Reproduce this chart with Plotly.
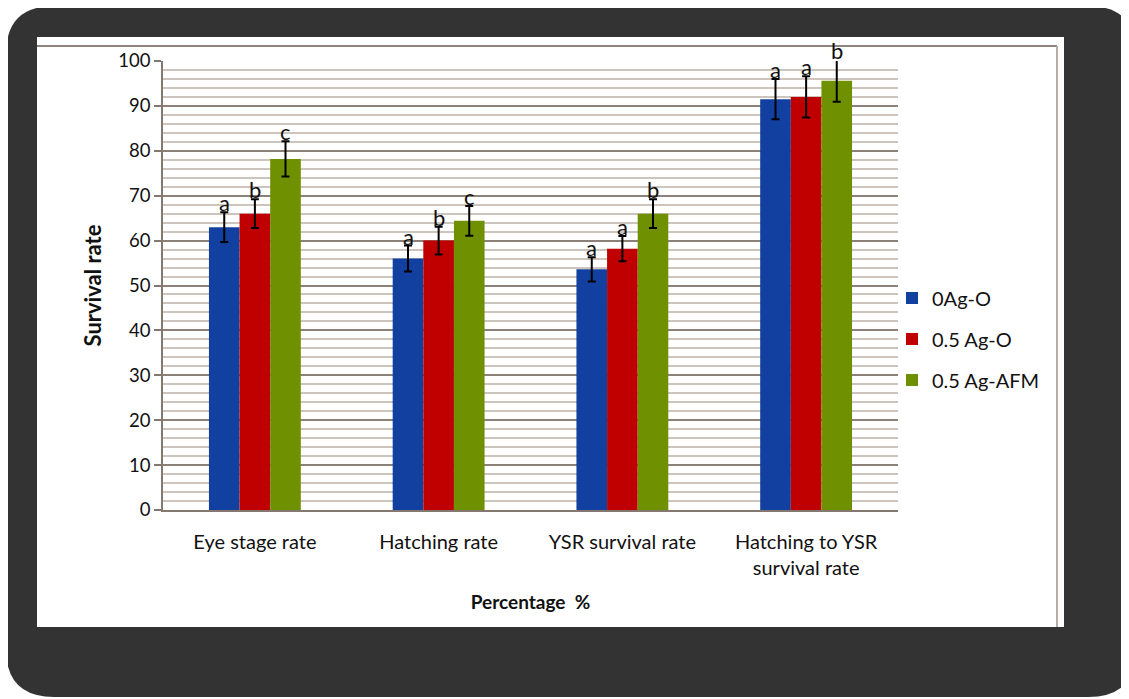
import plotly.graph_objects as go

categories = ["Eye stage rate", "Hatching rate", "YSR survival rate", "Hatching to YSR<br>survival rate"]
series_names = ["0Ag-O", "0.5 Ag-O", "0.5 Ag-AFM"]
values_0ag_o = [63.0, 56.0, 53.6, 91.5]
values_05ag_o = [66.0, 60.0, 58.2, 92.0]
values_05ag_afm = [78.2, 64.4, 66.0, 95.6]
err_0ag_o = [3.3, 2.9, 2.7, 4.5]
err_05ag_o = [3.2, 3.1, 2.8, 4.6]
err_05ag_afm = [3.9, 3.3, 3.2, 4.7]
letters_0ag_o = ["a", "a", "a", "a"]
letters_05ag_o = ["b", "b", "a", "a"]
letters_05ag_afm = ["c", "c", "b", "b"]
colors = ["#1240a0", "#c00000", "#6f9000"]
y_ticks = [0, 10, 20, 30, 40, 50, 60, 70, 80, 90, 100]
Y_MIN, Y_MAX = 0, 100

# page is offset by the default 8px body margin
OFF = 8
W, H = 1129 - OFF, 699 - OFF
# plot area in page pixels
PX0, PX1, PY0, PY1 = 163, 898, 61, 510
L, R, T, B = PX0 - OFF, W - (PX1 - OFF), PY0 - OFF, H - (PY1 - OFF)
PW, PH = PX1 - PX0, PY1 - PY0
FONT = "Lato"


def px(x):
    return (x - PX0) / PW


def py(y):
    return (PY1 - y) / PH


def rounded_path(x0, y0, x1, y1, r):
    pts = [
        ("M", [(x0 + r, y0)]),
        ("L", [(x1 - r, y0)]),
        ("Q", [(x1, y0), (x1, y0 + r)]),
        ("L", [(x1, y1 - r)]),
        ("Q", [(x1, y1), (x1 - r, y1)]),
        ("L", [(x0 + r, y1)]),
        ("Q", [(x0, y1), (x0, y1 - r)]),
        ("L", [(x0, y0 + r)]),
        ("Q", [(x0, y0), (x0 + r, y0)]),
    ]
    s = ""
    for cmd, ps in pts:
        s += cmd + " ".join(f"{px(a):.5f},{py(b):.5f}" for a, b in ps) + " "
    return s + "Z"


fig = go.Figure()
all_vals = [values_0ag_o, values_05ag_o, values_05ag_afm]
all_errs = [err_0ag_o, err_05ag_o, err_05ag_afm]
all_letters = [letters_0ag_o, letters_05ag_o, letters_05ag_afm]

for i, name in enumerate(series_names):
    fig.add_trace(go.Bar(
        x=categories, y=all_vals[i], name=name,
        marker=dict(color=colors[i], line=dict(width=0)),
        error_y=dict(type="data", array=all_errs[i], visible=True,
                     color="black", thickness=2, width=4),
        legendgroup=name, cliponaxis=False,
    ))

bar_w = PW / len(categories) * 0.5 / 3
annotations = []
for i in range(3):
    for j, cat in enumerate(categories):
        annotations.append(dict(
            x=cat, y=(all_vals[i][j] + all_errs[i][j] - Y_MIN) / (Y_MAX - Y_MIN),
            xref="x", yref="paper",
            text=all_letters[i][j], showarrow=False, yanchor="bottom",
            xshift=(i - 1) * bar_w, yshift=-6,
            font=dict(family=FONT, size=22, color="#111"),
        ))

shapes = [
    dict(type="path", xref="paper", yref="paper", layer="below",
         path=rounded_path(6, 6, 1136, 697, 48),
         fillcolor="#333333", line=dict(width=0)),
    dict(type="rect", xref="paper", yref="paper", layer="below",
         x0=px(37), x1=px(1064), y0=py(37), y1=py(627),
         fillcolor="white", line=dict(width=0)),
    dict(type="line", xref="paper", yref="paper", layer="below",
         x0=px(37), x1=px(1057), y0=py(46), y1=py(46),
         line=dict(color="#8f847d", width=2)),
    dict(type="line", xref="paper", yref="paper", layer="below",
         x0=px(1057), x1=px(1057), y0=py(46), y1=py(627),
         line=dict(color="#b5aca6", width=2)),
]

fig.update_layout(
    width=W, height=H,
    margin=dict(l=L, r=R, t=T, b=B, autoexpand=False),
    paper_bgcolor="white", plot_bgcolor="rgba(0,0,0,0)",
    barmode="group", bargap=0.5, bargroupgap=0,
    font=dict(family=FONT, color="#111"),
    showlegend=True,
    legend=dict(x=px(892), y=py(339), xanchor="left", yanchor="middle",
                font=dict(family=FONT, size=20, color="#111"),
                tracegroupgap=12, bgcolor="rgba(0,0,0,0)"),
    shapes=shapes,
    annotations=annotations,
    xaxis=dict(
        showline=True, linecolor="#857870", linewidth=1.5,
        showgrid=False, ticks="", ticklabelstandoff=13,
        tickfont=dict(family=FONT, size=20, color="#111"),
        title=dict(text="<b>Percentage&nbsp; %</b>", standoff=18,
                   font=dict(family=FONT, size=19, color="#111")),
    ),
    yaxis=dict(
        range=[Y_MIN, Y_MAX], tickvals=y_ticks,
        showline=True, linecolor="#857870", linewidth=1.5,
        ticks="outside", ticklen=7, tickcolor="#857870", tickwidth=1.5,
        showgrid=True, gridcolor="#8c8079", gridwidth=1.5, zeroline=False,
        minor=dict(dtick=2, showgrid=True, gridcolor="#cdc4be", gridwidth=2),
        tickfont=dict(family=FONT, size=18.5, color="#111"),
        title=dict(text="<b>Survival rate</b>", standoff=11,
                   font=dict(family=FONT, size=22, color="#111")),
    ),
)

fig.write_html("out.html")
